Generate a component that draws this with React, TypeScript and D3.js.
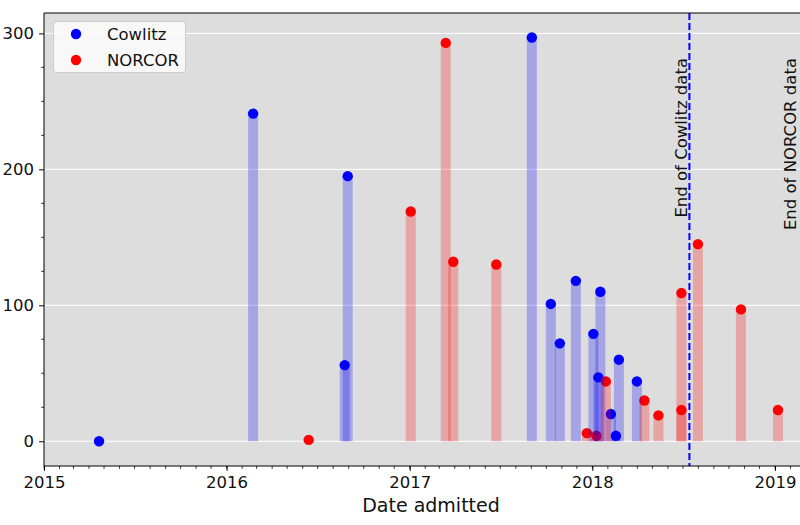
import React, { useEffect, useRef } from "react";
import * as d3 from "d3";

// admissions per date
const cowlitzDates = [
  "2015-04-21", "2016-02-23", "2016-08-24", "2016-08-30", "2017-09-02",
  "2017-10-10", "2017-10-28", "2017-11-29", "2018-01-03", "2018-01-13",
  "2018-01-17", "2018-02-07", "2018-02-17", "2018-02-23", "2018-03-31",
];
const cowlitzCounts = [0, 241, 56, 195, 297, 101, 72, 118, 79, 47, 110, 20, 4, 60, 44];

const norcorDates = [
  "2016-06-13", "2017-01-03", "2017-03-14", "2017-03-29", "2017-06-23",
  "2017-12-21", "2018-01-09", "2018-01-28", "2018-04-15", "2018-05-13",
  "2018-06-28", "2018-06-28", "2018-07-31", "2018-10-25", "2019-01-07",
];
const norcorCounts = [1, 169, 293, 132, 130, 6, 4, 44, 30, 19, 109, 23, 145, 97, 23];

const cowlitzEnd = "2018-07-14";
const norcorEnd = "2019-02-17";

const yMajorTicks = [0, 100, 200, 300];
const seriesNames = ["Cowlitz", "NORCOR"];

const parse = (s: string) => new Date(s + "T00:00:00Z");

const App: React.FC = () => {
  const svgRef = useRef<SVGSVGElement | null>(null);

  useEffect(() => {
    const svg = d3.select(svgRef.current);
    svg.selectAll("*").remove();

    const left = 44, right = 818, top = 13, bottom = 466;
    const font = "DejaVu Sans, sans-serif";

    const x = d3
      .scaleUtc()
      .domain([parse("2015-01-01"), parse("2019-03-28")])
      .range([left, right]);
    const y = d3.scaleLinear().domain([-18.2, 315]).range([bottom, top]);

    // background
    svg.append("rect")
      .attr("x", left).attr("y", top)
      .attr("width", right - left).attr("height", bottom - top)
      .attr("fill", "#dddddd");

    // horizontal grid
    svg.append("g")
      .selectAll("line")
      .data(yMajorTicks)
      .join("line")
      .attr("x1", left).attr("x2", right)
      .attr("y1", (d) => y(d)).attr("y2", (d) => y(d))
      .attr("stroke", "white").attr("stroke-width", 1);

    const series = [
      { dates: cowlitzDates, counts: cowlitzCounts, color: "blue" },
      { dates: norcorDates, counts: norcorCounts, color: "red" },
    ];

    // dots
    series.forEach((s) => {
      svg.append("g")
        .selectAll("circle")
        .data(s.dates.map((d, i) => ({ date: parse(d), value: s.counts[i] })))
        .join("circle")
        .attr("cx", (d) => x(d.date))
        .attr("cy", (d) => y(d.value))
        .attr("r", 5.2)
        .attr("fill", s.color);
    });

    // translucent bars drawn over the dots
    const barW = 10;
    series.forEach((s) => {
      svg.append("g")
        .selectAll("rect")
        .data(s.dates.map((d, i) => ({ date: parse(d), value: s.counts[i] })))
        .join("rect")
        .attr("x", (d) => x(d.date) - barW / 2)
        .attr("y", (d) => y(d.value))
        .attr("width", barW)
        .attr("height", (d) => y(0) - y(d.value))
        .attr("fill", s.color)
        .attr("fill-opacity", 0.25);
    });

    // end-of-data lines
    const endX = x(parse(cowlitzEnd));
    svg.append("line")
      .attr("x1", endX).attr("x2", endX)
      .attr("y1", top).attr("y2", bottom)
      .attr("stroke", "blue").attr("stroke-width", 2)
      .attr("stroke-dasharray", "7,3");

    const labels = [
      { at: cowlitzEnd, text: "End of Cowlitz data" },
      { at: norcorEnd, text: "End of NORCOR data" },
    ];
    labels.forEach((l) => {
      const lx = x(parse(l.at)) - 2.5;
      svg.append("text")
        .attr("transform", `translate(${lx},58) rotate(-90)`)
        .attr("text-anchor", "end")
        .style("font-family", font)
        .style("font-size", "16.5px")
        .attr("fill", "#111")
        .text(l.text);
    });

    // x axis
    const xAxis = d3
      .axisBottom(x)
      .tickValues(d3.utcYear.range(parse("2015-01-01"), parse("2019-03-28")))
      .tickFormat((d) => d3.utcFormat("%Y")(d as Date))
      .tickSize(4.9)
      .tickPadding(5);
    const gx = svg.append("g").attr("transform", `translate(0,${bottom})`).call(xAxis as any);
    gx.select(".domain").remove();
    gx.selectAll("text").style("font-family", font).style("font-size", "16.5px").attr("fill", "#111");

    svg.append("g")
      .selectAll("line")
      .data(d3.utcMonth.range(parse("2015-01-01"), parse("2019-03-28")))
      .join("line")
      .attr("x1", (d) => x(d)).attr("x2", (d) => x(d))
      .attr("y1", bottom).attr("y2", bottom + 2.8)
      .attr("stroke", "black").attr("stroke-width", 0.8);

    // y axis
    const yAxis = d3.axisLeft(y).tickValues(yMajorTicks).tickSize(4.9).tickPadding(5);
    const gy = svg.append("g").attr("transform", `translate(${left},0)`).call(yAxis as any);
    gy.select(".domain").remove();
    gy.selectAll("text").style("font-family", font).style("font-size", "16.5px").attr("fill", "#111");

    svg.append("g")
      .selectAll("line")
      .data(d3.range(0, 315, 25).filter((v) => v % 100 !== 0))
      .join("line")
      .attr("x1", left - 2.8).attr("x2", left)
      .attr("y1", (d) => y(d)).attr("y2", (d) => y(d))
      .attr("stroke", "black").attr("stroke-width", 0.8);

    // spines
    svg.append("path")
      .attr("d", `M${right},${top}H${left}V${bottom}H${right}`)
      .attr("fill", "none").attr("stroke", "black").attr("stroke-width", 1);

    svg.append("text")
      .attr("x", (left + right) / 2).attr("y", 512)
      .attr("text-anchor", "middle")
      .style("font-family", font).style("font-size", "19px")
      .attr("fill", "#111")
      .text("Date admitted");

    // legend
    const lg = svg.append("g");
    lg.append("rect")
      .attr("x", 53.5).attr("y", 21.5).attr("width", 132).attr("height", 51).attr("rx", 3)
      .attr("fill", "white").attr("fill-opacity", 0.8)
      .attr("stroke", "#cccccc").attr("stroke-width", 1);
    seriesNames.forEach((name, i) => {
      const cy = 34 + i * 26;
      lg.append("circle").attr("cx", 76).attr("cy", cy).attr("r", 5.2).attr("fill", series[i].color);
      lg.append("text")
        .attr("x", 107).attr("y", cy).attr("dy", "0.36em")
        .style("font-family", font).style("font-size", "16.5px")
        .attr("fill", "#111")
        .text(name);
    });
  }, []);

  return (
    <svg
      ref={svgRef}
      width={800}
      height={525}
      style={{ position: "absolute", left: 0, top: 0, background: "white" }}
    />
  );
};

export default App;
